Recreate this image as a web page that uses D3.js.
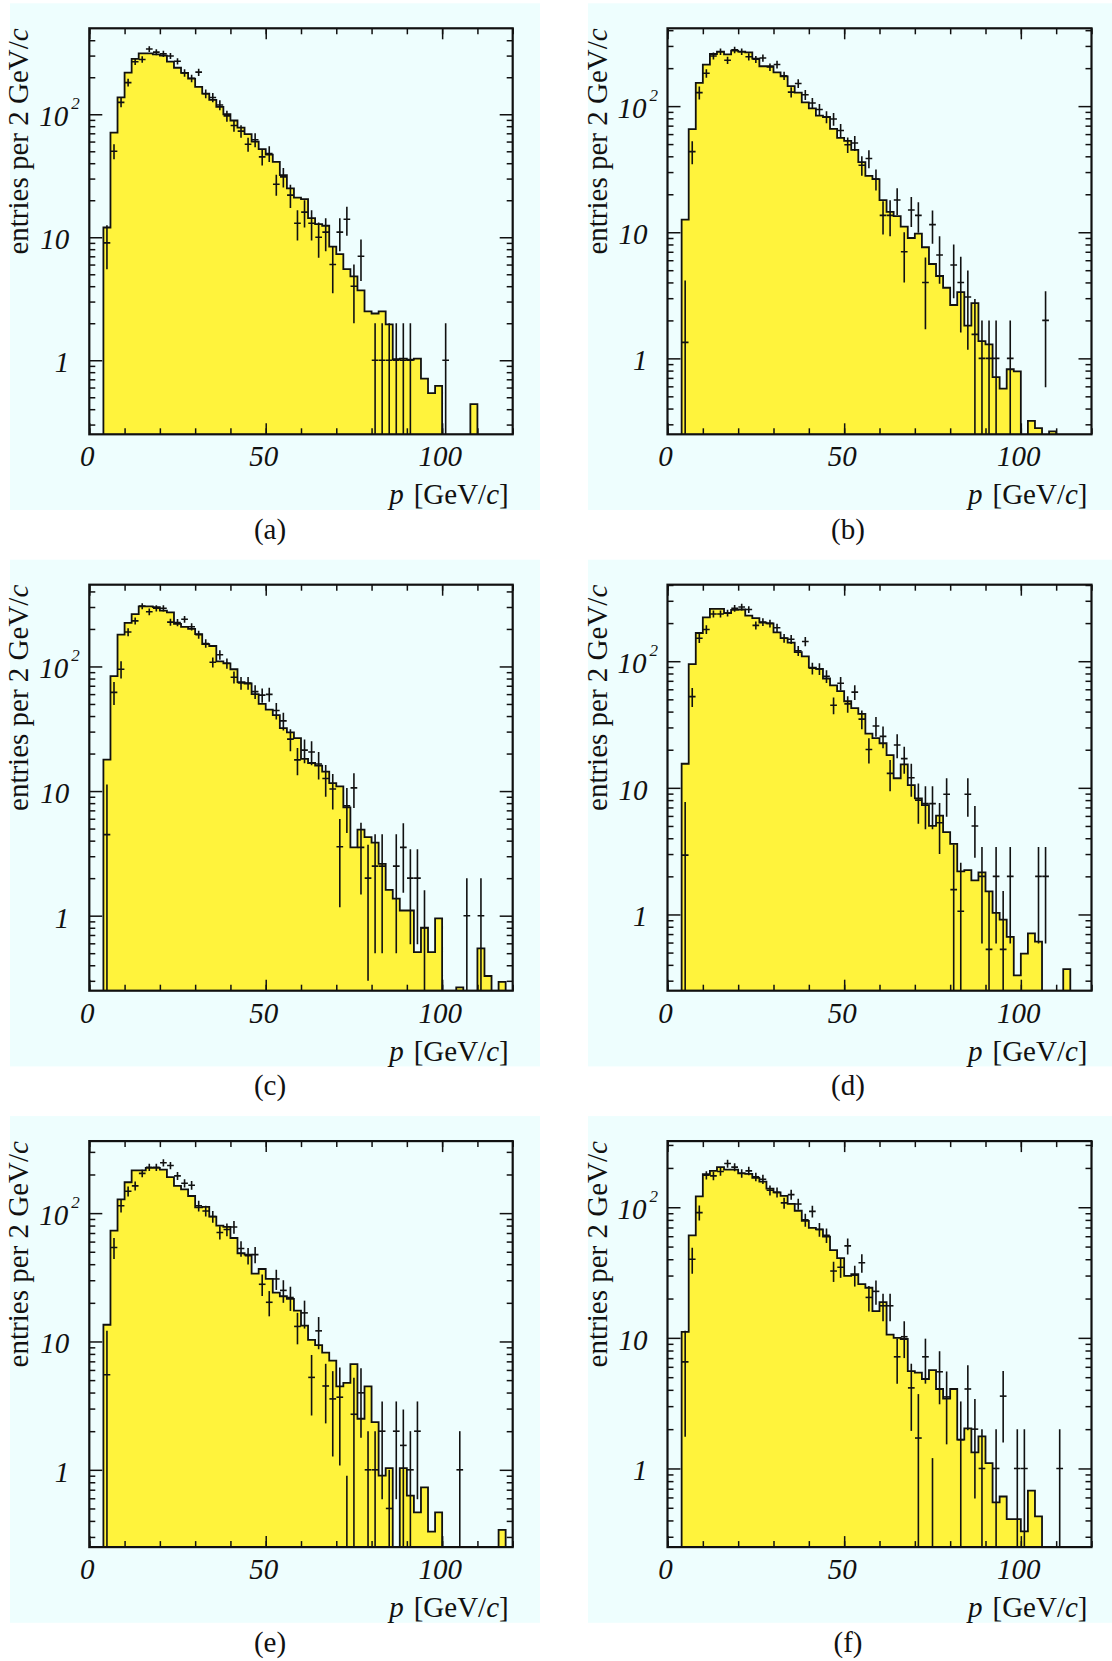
<!DOCTYPE html>
<html><head><meta charset="utf-8">
<script src="https://cdn.jsdelivr.net/npm/d3@7"></script>
<style>html,body{margin:0;padding:0;background:#fff}svg{display:block}</style>
</head><body>
<svg id="c" width="1112" height="1661"></svg>
<script>
// ---------------- data (bins of 2 GeV/c from 0 to 120; index i = bin [2i, 2i+2]) ----------------
const BIN_WIDTH = 2;
const X_RANGE = [0, 120];
const Y_MIN = 0.25;
const panelLabels = ["(a)", "(b)", "(c)", "(d)", "(e)", "(f)"];
const yMax = [500, 414, 453, 402, 364, 321];
const xTickLabels = [0, 50, 100];
const yTickLabels = [1, 10, 100];
const xTitle = "[GeV/";
const yTitle = "entries per 2 GeV/";

const mcA = [
  0,0,12,71,137,218,282,313,313,307,
  300,268,239,217,195,167,147,131,115,100,
  89,78,69,60,52,47,41,32,25,21,
  20.4,14.3,12.8,12.4,8.4,7.3,5.5,4.8,3.7,2.5,
  2.4,2.5,1.96,1.02,1.03,1.01,1.03,0.71,0.54,0.62,
  0,0,0,0,0.44,0,0,0,0,0];
const dataA = [
  null,null,9,50,125,181,267,279,339,320,
  310,298,270,217,196,220,147,137,119,97,
  81,73,57,62,45,48,27,31,22,13,
  16,13,10,11,6,11,14,4,7,null,
  1,1,1,1,1,1,null,null,null,null,
  1,null,null,null,null,null,null,null,null,null];
const errA = [
  null,null,3.5,7,11,13,16,17,18,18,
  18,17,16,15,14,15,12,12,11,10,
  9,8.5,7.5,8,6.7,7,5.2,5.6,4.7,3.6,
  4,3.6,3.2,3.3,2.5,3.3,3.7,2,2.6,null,
  1,1,1,1,1,1,null,null,null,null,
  1,null,null,null,null,null,null,null,null,null];

const mcB = [
  0,0,12.6,65.6,153,213,259,270,257,275,
  270,267,238,207,207,185,172,144,128,107,
  96,84,82,66,56,53,45,36,28,26.4,
  18,14.5,13.4,11.1,9.0,9.75,7.6,5.6,4.5,3.63,
  2.65,3.35,1.82,2.74,1.37,1.29,0.71,0.575,0.82,0.79,
  0,0.32,0.28,0,0.264,0,0,0,0,0];
const dataB = [
  null,null,1.34,43.6,128,182,250,270,231,279,
  270,246,235,241,204,214,174,129,151,123,
  106,94,82,79,64,49.4,51,34,38.4,26.4,
  13.6,13.6,18,7.0,15,13.6,4.0,11.5,6.6,null,
  5.5,4.0,3.07,1.55,1,1,1,null,1,null,
  null,null,null,2,null,null,null,null,null,null];
const errB = [
  null,null,2.8,9,15,14,16,16,15,17,
  16,16,15,16,14,15,13,12,12,11,
  10,10,9,9,8,7,7,6,6.2,5,
  4,4.3,4.3,3,4,3.7,2.3,3.4,2.7,null,
  2.5,2.4,1.9,1.4,1,1,1,null,1,null,
  null,null,null,1.41,null,null,null,null,null,null];

const mcC = [
  0,0,17.9,83.7,180,224,263,303,303,299,
  281,272,220,208,200,182,151,146,110,106,
  95,75,73,60,50,45,40.7,32,29.6,26.6,
  18.1,16.8,16,14.3,11.6,10.9,7.4,3.53,4.9,4.27,
  3.86,2.6,1.61,1.37,1.1,1.1,0.51,0.8,0.51,0.95,
  0,0,0.266,0,0,0.546,0.328,0,0.294,0];
const dataC = [
  null,null,4.47,62,95,189,232,305,275,293,
  293,227,225,239,208,180,153,108,124,106,
  82,73.6,73.6,62.8,58.9,59.7,44.3,36.6,26.1,17.8,
  21.3,20.6,16.5,12.6,10.4,3.57,7.6,10.6,3.53,2.0,
  2.5,2.5,null,2.5,3.53,2,2,0.8,null,null,
  null,null,null,1,null,1,null,null,null,null];
const errC = [
  null,null,6.8,13,15,14,15,17,17,17,
  17,15,15,15,14,13,12,10,11,10,
  9,8.6,8.6,8,7.7,7.7,6.7,6,5.2,4.4,
  4.6,4.5,4.1,3.6,3.3,2.4,3,3.3,2.05,1.7,
  2,2,null,2,2,1.41,1.41,0.8,null,null,
  null,null,null,1,null,1,null,null,null,null];

const mcD = [
  0,0,15.5,95,167,222,259,259,240,254,
  256,229,219,202,199,169,152,140,118,109,
  89,87,73,64.5,58,48.3,42.6,38.4,26.8,24.7,
  22.5,18.1,11.9,15.3,10.5,8.26,7.3,5.0,6.04,4.47,
  3.61,2.19,2.24,1.86,2.15,1.52,1.03,0.91,0.666,0.33,
  0.49,0.71,0.61,0,0,0,0.37,0,0,0];
const dataD = [
  null,null,2.94,52.5,152,178,236,236,240,262,
  268,256,192,204,199,184,152,149,121,143,
  88,87,76,44.9,67,46,57,34.9,20.1,30.8,
  25.5,13,21.8,17,12,8.0,7.5,7.5,5.3,8.9,
  1.57,1.06,8.9,5.0,2,0.53,2,0.53,2,null,
  null,null,2,2,null,null,null,null,null,null];
const errD = [
  null,null,4.8,9,13,14,15,15,15,16,
  16,16,14,14,14,14,12,12,11,12,
  9.4,9.3,8.7,6.7,8.2,6.8,7.5,5.9,4.5,5.5,
  5,3.6,4.7,4.1,3.5,2.8,2.8,2.8,2.3,3.0,
  2.0,1.5,3.0,2.2,1.41,1.0,1.41,1.0,1.41,null,
  null,null,1.41,1.41,null,null,null,null,null,null];

const mcE = [
  0,0,13.5,73,128,174,215,215,225,225,
  218,191,163,153,136,111,112,94,80,78,
  64,48.7,47.5,33.8,36.7,30.7,24,22.5,21.5,17.4,
  13.3,10.3,9.35,8.2,7.1,4.47,4.76,6.65,2.5,4.47,
  2.35,0.9,1.03,0,1.03,0.63,0.466,0.73,0.33,0.466,
  0,0,0,0,0,0,0,0,0.34,0];
const dataE = [
  null,null,5.5,54,114,148,163,204,228,228,
  247,235,195,171,165,114,104,94,70.7,74.5,
  78,53,46.6,47.5,27.9,20.2,30.7,25,22,13.1,
  16.7,5.25,12.1,4.5,3.57,3.68,0.1,2.71,3.98,1,
  1,2,0.5,2,1.55,1,2,null,null,null,
  null,null,1,null,null,null,null,null,null,null];
const errE = [
  null,null,6.6,10,13,13,13,14,15,15,
  16,15,14,13,13,11,10,10,8.4,8.6,
  8.8,7.3,6.8,6.9,5.3,4.5,5.5,5,4.7,3.6,
  4.1,2.6,3.4,2.2,2.3,2.6,0.8,2.5,2.2,1,
  1,1.41,0.5,1.41,1.4,1,1.41,null,null,null,
  null,null,1,null,null,null,null,null,null,null];

const mcF = [
  0,0,11.1,61,121,179,190,203,194,194,
  182,180,168,157,139,130,122,106,94,78.7,
  69.4,67.6,59.6,46.9,40.8,29.8,30.7,25.8,24.2,16,
  18.8,10.6,10,9.8,5.56,5.42,4.84,5.67,4.06,3.42,
  4.06,1.66,2.03,1.33,1.76,1.1,0.55,0.61,0.41,0.41,
  0.33,0.676,0.43,0,0,0,0,0,0,0];
const dataF = [
  null,null,6.55,40,91,176,174,188,216,203,
  182,190,171,164,135,130,108,125,106,80,
  93,67.6,61,32.5,34.7,50.6,30.2,37.6,20.4,22.7,
  17.6,17.6,7.16,10.2,4.14,1.71,7.16,0.1,5.5,3.53,
  null,1.66,4.06,2,1,null,1,3.58,null,1,
  1,null,null,null,null,1,null,null,null,null];
const errF = [
  null,null,4.8,9,12,13,13,14,15,14,
  13.5,14,13,13,12,11.4,10.4,11,10.3,9,
  9.6,8.2,7.8,5.7,5.9,7.1,5.5,6.1,4.5,4.8,
  4.2,4.2,2.7,3.2,2.2,2.0,2.7,1.1,2.4,2.0,
  null,1.6,2.1,1.41,1,null,1,2.0,null,1,
  1,null,null,null,null,1,null,null,null,null];

// ---------------- drawing ----------------
const BG = "#eefefe", FILL = "#fff33c", INK = "#111";
const FONT = "'Liberation Serif','Times New Roman',serif";
const FS = 29;
const panels = [
  {mc: mcA, data: dataA, err: errA},
  {mc: mcB, data: dataB, err: errB},
  {mc: mcC, data: dataC, err: errC},
  {mc: mcD, data: dataD, err: errD},
  {mc: mcE, data: dataE, err: errE},
  {mc: mcF, data: dataF, err: errF}
];
const cols = [{bg: [10, 540], fr: [89.3, 512.7], lab: 270},
              {bg: [588, 1112], fr: [667.5, 1091.5], lab: 848}];
const ROW = 556.4;
const svg = d3.select("#c");
const defs = svg.append("defs");

panels.forEach((p, k) => {
  const c = cols[k % 2], oy = Math.floor(k / 2) * ROW;
  const bgTop = 3.3 + oy, bgBot = 510 + oy, frTop = 28.3 + oy, frBot = 434.3 + oy;
  const [fl, fr] = c.fr;
  const x = d3.scaleLinear().domain(X_RANGE).range([fl, fr]);
  const y = d3.scaleLog().domain([Y_MIN, yMax[k]]).range([frBot, frTop]);
  const g = svg.append("g");

  g.append("rect").attr("x", c.bg[0]).attr("y", bgTop)
    .attr("width", c.bg[1] - c.bg[0]).attr("height", bgBot - bgTop).attr("fill", BG);

  const cid = "clip" + k;
  defs.append("clipPath").attr("id", cid).append("rect")
    .attr("x", fl).attr("y", frTop).attr("width", fr - fl).attr("height", frBot - frTop);
  const pg = g.append("g").attr("clip-path", `url(#${cid})`);

  // histogram (simulation)
  const pts = p.mc.map((v, i) => ({lo: i * BIN_WIDTH, v}));
  pts.push({lo: X_RANGE[1], v: p.mc[p.mc.length - 1]});
  const yv = v => (v > Y_MIN ? y(v) : frBot + 2);
  const area = d3.area().curve(d3.curveStepAfter)
    .x(d => x(d.lo)).y0(frBot + 2).y1(d => yv(d.v));
  const line = d3.line().curve(d3.curveStepAfter)
    .x(d => x(d.lo)).y(d => yv(d.v));
  pg.append("path").attr("d", area(pts)).attr("fill", FILL);
  pg.append("path").attr("d", line(pts)).attr("fill", "none")
    .attr("stroke", INK).attr("stroke-width", 1.8);

  // data points with error bars
  const pd = p.data.map((v, i) => ({i, v, e: p.err[i]})).filter(d => d.v !== null);
  const eg = pg.append("g").attr("stroke", INK).attr("stroke-width", 1.6);
  eg.selectAll("line.v").data(pd).join("line").attr("class", "v")
    .attr("x1", d => x(d.i * BIN_WIDTH + BIN_WIDTH / 2))
    .attr("x2", d => x(d.i * BIN_WIDTH + BIN_WIDTH / 2))
    .attr("y1", d => (d.v - d.e > 0.01 ? y(d.v - d.e) : frBot + 2))
    .attr("y2", d => y(d.v + d.e));
  eg.selectAll("line.h").data(pd.filter(d => d.v >= Y_MIN)).join("line").attr("class", "h")
    .attr("x1", d => x(d.i * BIN_WIDTH + 0.05))
    .attr("x2", d => x(d.i * BIN_WIDTH + BIN_WIDTH - 0.05))
    .attr("y1", d => y(d.v)).attr("y2", d => y(d.v));

  // ticks via d3 axes (inward)
  const minorX = d3.range(X_RANGE[0], X_RANGE[1] + 1, 10);
  const majorX = [0, 50, 100];
  const decades = [0.1, 1, 10, 100];
  const minorY = [];
  decades.forEach(dd => [2,3,4,5,6,7,8,9].forEach(m => {
    const v = dd * m; if (v > Y_MIN && v < yMax[k]) minorY.push(v);
  }));
  const majorY = [1, 10, 100];
  const tickStyle = s => s.call(a => a.select(".domain").remove())
    .selectAll("line").attr("stroke", INK).attr("stroke-width", 1.5);
  g.append("g").attr("transform", `translate(0,${frBot})`)
    .call(d3.axisBottom(x).tickValues(minorX).tickSize(-6).tickFormat("")).call(tickStyle);
  g.append("g").attr("transform", `translate(0,${frBot})`)
    .call(d3.axisBottom(x).tickValues(majorX).tickSize(-11).tickFormat("")).call(tickStyle);
  g.append("g").attr("transform", `translate(0,${frTop})`)
    .call(d3.axisTop(x).tickValues(minorX).tickSize(-6).tickFormat("")).call(tickStyle);
  g.append("g").attr("transform", `translate(0,${frTop})`)
    .call(d3.axisTop(x).tickValues(majorX).tickSize(-11).tickFormat("")).call(tickStyle);
  g.append("g").attr("transform", `translate(${fl},0)`)
    .call(d3.axisLeft(y).tickValues(minorY).tickSize(-6).tickFormat("")).call(tickStyle);
  g.append("g").attr("transform", `translate(${fl},0)`)
    .call(d3.axisLeft(y).tickValues(majorY).tickSize(-13).tickFormat("")).call(tickStyle);
  g.append("g").attr("transform", `translate(${fr},0)`)
    .call(d3.axisRight(y).tickValues(minorY).tickSize(-6).tickFormat("")).call(tickStyle);
  g.append("g").attr("transform", `translate(${fr},0)`)
    .call(d3.axisRight(y).tickValues(majorY).tickSize(-13).tickFormat("")).call(tickStyle);

  // frame
  g.append("rect").attr("x", fl).attr("y", frTop).attr("width", fr - fl)
    .attr("height", frBot - frTop).attr("fill", "none").attr("stroke", INK).attr("stroke-width", 2.2);

  // x tick labels
  g.selectAll("text.xl").data(xTickLabels).join("text").attr("class", "xl")
    .attr("x", d => x(d) - 2).attr("y", frBot + 32)
    .attr("text-anchor", "middle").attr("font-family", FONT).attr("font-style", "italic")
    .attr("font-size", FS).attr("fill", INK).text(d => d);

  // y tick labels
  yTickLabels.forEach(v => {
    const ty = y(v);
    if (v === 100) {
      g.append("text").attr("x", fl - 21).attr("y", ty + 12).attr("text-anchor", "end")
        .attr("font-family", FONT).attr("font-style", "italic").attr("font-size", FS)
        .attr("fill", INK).text("10");
      g.append("text").attr("x", fl - 18).attr("y", ty - 5).attr("text-anchor", "start")
        .attr("font-family", FONT).attr("font-style", "italic").attr("font-size", 17)
        .attr("fill", INK).text("2");
    } else {
      g.append("text").attr("x", fl - 20).attr("y", ty + 12).attr("text-anchor", "end")
        .attr("font-family", FONT).attr("font-style", "italic").attr("font-size", FS)
        .attr("fill", INK).text(d3.format("d")(v));
    }
  });

  // x title
  const xt = g.append("text").attr("x", fr - 4).attr("y", frBot + 70)
    .attr("text-anchor", "end").attr("font-family", FONT).attr("font-size", FS).attr("fill", INK);
  xt.append("tspan").attr("font-style", "italic").text("p");
  xt.append("tspan").attr("dx", 10).text(xTitle);
  xt.append("tspan").attr("font-style", "italic").text("c");
  xt.append("tspan").text("]");

  // y title
  const yt = g.append("text")
    .attr("transform", `translate(${fl - 61},${frTop}) rotate(-90)`)
    .attr("text-anchor", "end").attr("font-family", FONT).attr("font-size", FS).attr("fill", INK);
  yt.append("tspan").text(yTitle);
  yt.append("tspan").attr("font-style", "italic").text("c");

  // panel label
  svg.append("text").attr("x", c.lab).attr("y", 539 + oy).attr("text-anchor", "middle")
    .attr("font-family", FONT).attr("font-size", FS).attr("fill", INK).text(panelLabels[k]);
});
</script>
</body></html>
